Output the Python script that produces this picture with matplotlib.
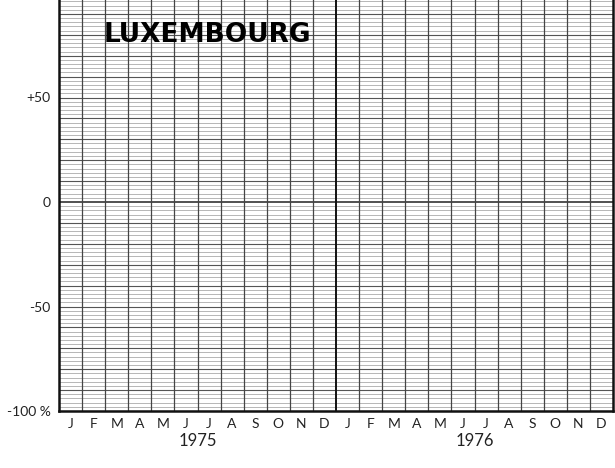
import numpy as np
from matplotlib import pyplot as plt

# Axis content (empty grid, no series)
months = ["J", "F", "M", "A", "M", "J", "J", "A", "S", "O", "N", "D"]
years = ["1975", "1976"]
y_ticks = [-100, -50, 0, 50]
y_labels = ["-100 %", "-50", "0", "+50"]
country = "LUXEMBOURG"

n_months = len(months) * len(years)

fig = plt.figure(figsize=(6.15, 4.68), dpi=100)
ax = fig.add_axes([59 / 615, 57 / 468, 554 / 615, 418 / 468])
ax.set_xlim(0, n_months)
ax.set_ylim(-100, 100)

# horizontal ruling: fine every 2 %, a bit heavier every 10 %, zero line heavy
for v in range(-100, 101, 2):
    if v == 0:
        ax.axhline(v, color="#222222", lw=1.1, zorder=2)
    elif v % 10 == 0:
        ax.axhline(v, color="#555555", lw=0.8, zorder=1)
    else:
        ax.axhline(v, color="#9a9a9a", lw=0.5, zorder=1)

# vertical ruling at month boundaries, heavy at the year change
for m in range(1, n_months):
    if m % len(months) == 0:
        ax.axvline(m, color="#111111", lw=1.4, zorder=2)
    else:
        ax.axvline(m, color="#444444", lw=0.9, zorder=2)

for side in ["left", "bottom", "right"]:
    ax.spines[side].set_linewidth(1.8)
    ax.spines[side].set_color("#111111")
ax.spines["top"].set_visible(False)

ax.set_yticks(y_ticks)
ax.set_yticklabels(y_labels, fontsize=10, family="Lato", color="#222222")
ax.tick_params(axis="y", length=0, pad=6)

# month letters centred in each month, year below
month_pos = np.arange(n_months) + 0.5
ax.set_xticks(month_pos)
ax.set_xticklabels(months * len(years), fontsize=10, family="Lato", color="#222222")
ax.tick_params(axis="x", length=0, pad=5)
for i, yr in enumerate(years):
    ax.annotate(yr, xy=((i + 0.5) * len(months), 0), xycoords=("data", "axes fraction"),
                xytext=(0, -15.5), textcoords="offset points", ha="center", va="top",
                fontsize=12, family="Lato", color="#222222", annotation_clip=False)

ax.text(1.95, 80, country, ha="left", va="center", fontsize=19,
        fontweight="bold", family="DejaVu Sans", color="black")

fig.savefig("out.png", dpi=100)
